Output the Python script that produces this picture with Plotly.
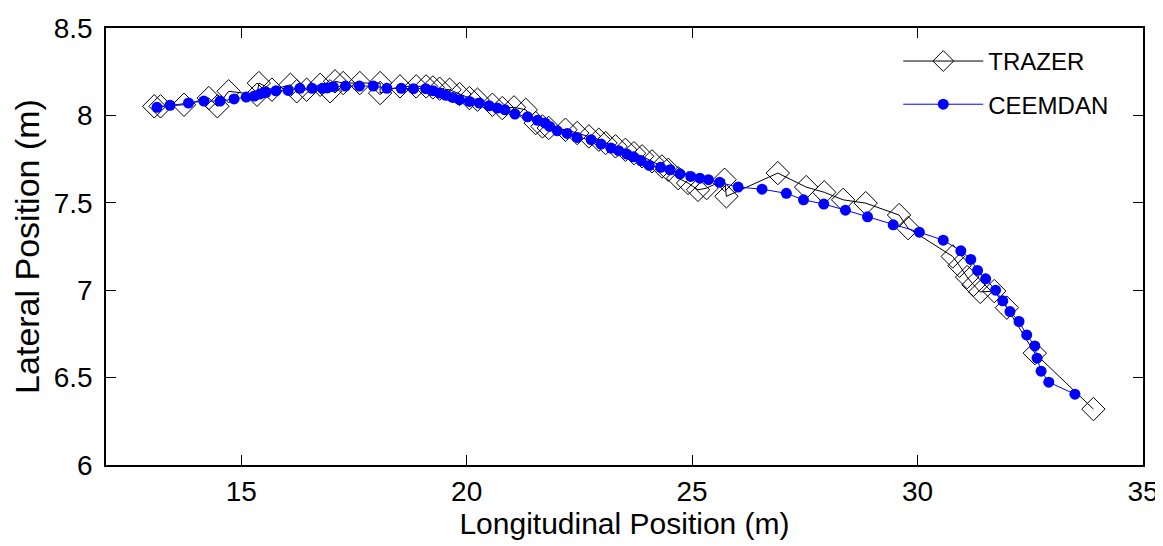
import plotly.graph_objects as go

# CEEMDAN (blue filled circles)
ceemdan_x = [13.13, 13.42, 13.83, 14.17, 14.53, 14.84, 15.11, 15.29, 15.41, 15.50, 15.55, 15.77,
             16.04, 16.30, 16.57, 16.80, 16.91, 17.04, 17.31, 17.62, 17.93, 18.23, 18.55, 18.82,
             19.09, 19.25, 19.40, 19.54, 19.69, 19.84, 20.06, 20.28, 20.50, 20.68, 20.85, 21.07,
             21.35, 21.57, 21.74, 21.84, 22.01, 22.23, 22.45, 22.76, 22.98, 23.20, 23.37, 23.55,
             23.70, 23.87, 24.05, 24.30, 24.51, 24.73, 24.97, 25.17, 25.36, 25.61, 26.02, 26.55,
             27.09, 27.47, 27.92, 28.40, 28.89, 29.46, 30.04, 30.57, 30.96, 31.18, 31.33, 31.51,
             31.73, 31.89, 32.05, 32.25, 32.42, 32.60, 32.65, 32.74, 32.91, 33.49]
ceemdan_y = [8.046, 8.058, 8.071, 8.082, 8.082, 8.094, 8.105, 8.111, 8.122, 8.130, 8.132, 8.141,
             8.143, 8.155, 8.155, 8.155, 8.157, 8.164, 8.168, 8.168, 8.168, 8.155, 8.155, 8.153,
             8.153, 8.141, 8.128, 8.115, 8.103, 8.090, 8.080, 8.071, 8.055, 8.042, 8.032, 8.008,
             7.992, 7.972, 7.956, 7.937, 7.912, 7.897, 7.874, 7.861, 7.836, 7.813, 7.798, 7.779,
             7.763, 7.740, 7.714, 7.703, 7.689, 7.666, 7.651, 7.641, 7.632, 7.617, 7.590, 7.578,
             7.554, 7.517, 7.493, 7.458, 7.420, 7.374, 7.332, 7.286, 7.225, 7.176, 7.113, 7.065,
             7.000, 6.939, 6.878, 6.821, 6.744, 6.681, 6.611, 6.537, 6.474, 6.405]

# TRAZER (black open diamonds)
trazer_x = [13.07, 13.21, 13.73, 14.28, 14.47, 14.72, 15.35, 15.39, 15.68, 16.09, 16.23, 16.45,
            16.75, 16.97, 17.08, 17.26, 17.63, 18.08, 18.08, 18.52, 18.88, 19.10, 19.25, 19.40,
            19.62, 19.84, 20.06, 20.24, 20.57, 20.79, 21.05, 21.31, 21.53, 21.68, 21.82, 22.19,
            22.45, 22.71, 22.93, 23.08, 23.30, 23.52, 23.71, 23.89, 24.11, 24.33, 24.47, 24.69,
            24.91, 25.13, 25.32, 25.72, 25.76, 26.90, 27.53, 27.93, 28.35, 28.85, 29.59, 29.79,
            30.78, 30.93, 31.10, 31.24, 31.39, 31.70, 31.98, 32.60, 33.90]
trazer_y = [8.052, 8.052, 8.061, 8.099, 8.052, 8.138, 8.118, 8.185, 8.147, 8.175, 8.138, 8.147,
            8.175, 8.138, 8.195, 8.185, 8.185, 8.185, 8.128, 8.166, 8.166, 8.166, 8.160, 8.153,
            8.147, 8.122, 8.099, 8.090, 8.061, 8.042, 8.046, 8.032, 7.956, 7.937, 7.928, 7.918,
            7.899, 7.880, 7.861, 7.842, 7.823, 7.803, 7.784, 7.766, 7.737, 7.708, 7.689, 7.641,
            7.613, 7.574, 7.584, 7.632, 7.537, 7.670, 7.590, 7.560, 7.517, 7.498, 7.430, 7.355,
            7.193, 7.140, 7.075, 7.031, 6.990, 6.995, 6.900, 6.640, 6.320]

x_ticks = [15, 20, 25, 30, 35]
y_ticks = [6, 6.5, 7, 7.5, 8, 8.5]
y_tick_text = ["6", "6.5", "7", "7.5", "8", "8.5"]

FONT = "Liberation Sans, Arial, sans-serif"

fig = go.Figure()
fig.add_trace(go.Scatter(
    x=trazer_x, y=trazer_y, name="TRAZER", mode="lines+markers",
    line=dict(color="black", width=1),
    marker=dict(symbol="diamond-open", size=18, color="black", line=dict(width=1, color="black")),
    legendgroup="a"))
fig.add_trace(go.Scatter(
    x=ceemdan_x, y=ceemdan_y, name="CEEMDAN", mode="lines+markers",
    line=dict(color="#0000ff", width=1),
    marker=dict(symbol="circle", size=11, color="#0000ff"),
    legendgroup="b"))

axis_common = dict(
    showgrid=False, zeroline=False, showline=True, linecolor="black", linewidth=1.5,
    mirror="ticks", ticks="inside", ticklen=10, tickwidth=1.2, tickcolor="black",
    tickfont=dict(family=FONT, size=28, color="black"), automargin=False,
)

fig.update_layout(
    width=1163, height=546,
    margin=dict(l=98, r=28, t=20, b=89),
    paper_bgcolor="white", plot_bgcolor="white",
    font=dict(family=FONT, color="black"),
    showlegend=True,
    legend=dict(x=0.764, y=0.975, xanchor="left", yanchor="top",
                font=dict(family=FONT, size=24, color="black"),
                bgcolor="rgba(0,0,0,0)", itemwidth=80,
                traceorder="grouped", tracegroupgap=9),
    xaxis=dict(range=[12, 35], tickvals=x_ticks, ticklabelstandoff=1,
               title=dict(text="Longitudinal Position (m)", font=dict(family=FONT, size=30), standoff=2),
               **axis_common),
    yaxis=dict(range=[6, 8.5], tickvals=y_ticks, ticktext=y_tick_text, ticklabelstandoff=6,
               title=dict(text="Lateral Position (m)", font=dict(family=FONT, size=34), standoff=4),
               **axis_common),
)

fig.write_html("out.html")
